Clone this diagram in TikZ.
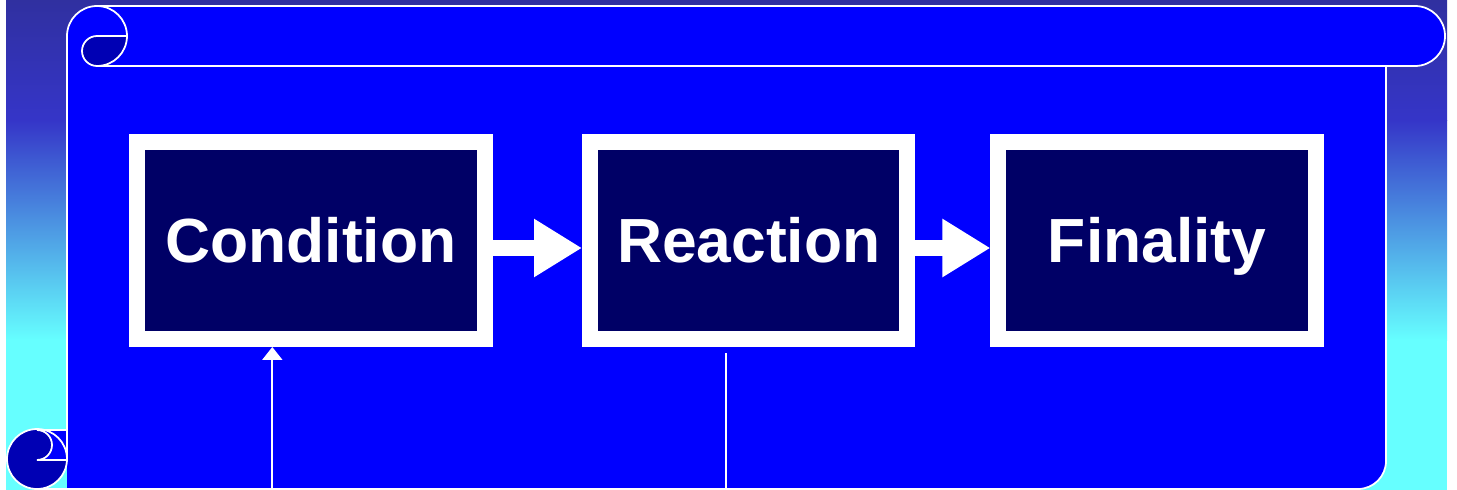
\documentclass[tikz,border=0pt]{standalone}
\usepackage{fontspec}
\usepackage{tikz}
\usetikzlibrary{positioning,arrows.meta}
\newfontfamily\stagefont{Liberation Sans}

\definecolor{scrollblue}{HTML}{0000FF}
\definecolor{curlblue}{HTML}{0000B4}
\definecolor{stagenavy}{HTML}{000066}
\definecolor{skytop}{HTML}{3030A0}
\definecolor{skymid}{HTML}{3535C8}
\definecolor{skylow}{HTML}{66FFFF}

\begin{document}
\begin{tikzpicture}[x=0.02cm, y=-0.02cm,
    stage/.style={draw=white, line width=0.32cm, fill=stagenavy, text=white, minimum height=3.94cm, inner sep=0pt, font=\stagefont\bfseries\fontsize{35.5}{40}\selectfont, text height=25.4pt, text depth=0pt},
    bigarrow/.style={white, line width=0.34cm, -{Triangle[length=0.96cm, width=1.1cm]}},
    thinline/.style={white, line width=1.1pt},
    rim/.style={white, line width=1pt}]

    \useasboundingbox (0,0) rectangle (1457,490);

    % Background
    \fill[white] (0,0) rectangle (1457,490);
    \shade[top color=skytop, bottom color=skymid] (6,0) rectangle (1447,120.5);
    \shade[top color=skymid, bottom color=skylow] (6,120) rectangle (1447,340.5);
    \fill[skylow] (6,340) rectangle (1447,490);

    % Scroll
    \fill[scrollblue] (67,36) arc (180:270:30) -- (1415,6) arc (270:450:30) -- (1386,66) -- (1386,461) arc (0:90:28) -- (67,489) -- cycle;
    \fill[curlblue] (97,36) -- (127,36) arc (0:90:30) arc (90:270:15) -- cycle;
    \fill[curlblue] (37,459) circle (30);
    \fill[scrollblue] (37,430) rectangle (67,460);
    \fill[curlblue] (37,430) arc (270:450:15) -- cycle;

    % Scroll rims
    \draw[rim] (67,459) -- (67,36) arc (180:270:30) -- (1415,6) arc (270:450:30) -- (97,66) arc (90:0:30) -- (97,36) arc (270:90:15);
    \draw[rim] (97,6) arc (270:360:30);
    \draw[rim] (1386,66) -- (1386,461) arc (0:90:28) -- (37,489);
    \draw[rim] (37,459) circle (30);
    \draw[rim] (67,430) -- (37,430) arc (270:450:15) -- (67,460);

    % Stages
    \node[stage, minimum width=6.95cm] (cond) at (310.8,240.5) {Condition};
    \node[stage, minimum width=6.35cm, right=1.79cm of cond] (reac) {Reaction};
    \node[stage, minimum width=6.35cm, right=1.5cm of reac] (fin) {Finality};

    % Flow
    \draw[bigarrow] ([yshift=-0.15cm]cond.east) -- ([yshift=-0.15cm]reac.west);
    \draw[bigarrow] ([yshift=-0.15cm]reac.east) -- ([yshift=-0.15cm]fin.west);

    % Lines to the bottom
    \coordinate (condin) at (272.3,490);
    \coordinate (reactop) at (726,353);
    \coordinate (reacout) at (726,490);
    \draw[thinline, -{Triangle[length=0.26cm, width=0.4cm]}] (condin) -- (condin |- cond.south);
    \draw[thinline] (reactop) -- (reacout);
\end{tikzpicture}
\end{document}
